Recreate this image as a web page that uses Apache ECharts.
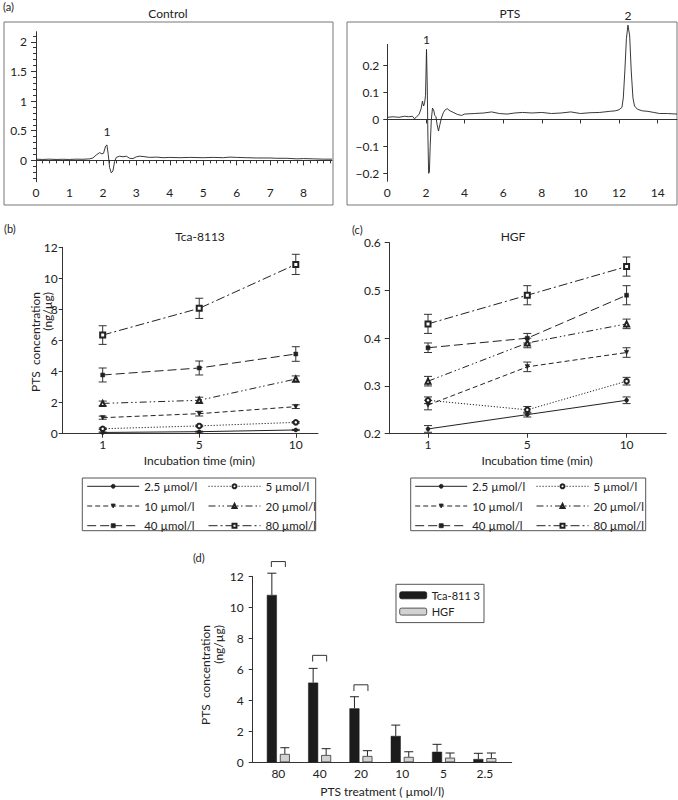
<!DOCTYPE html>
<html><head><meta charset="utf-8">
<script src="https://cdn.jsdelivr.net/npm/echarts@6/dist/echarts.min.js"></script>
<style>html,body{margin:0;padding:0;background:#fff}#c{width:678px;height:800px}</style>
</head><body><div id="c"></div>
<script>
const FONT = 'Lato';
const INK = '#222';
// ---------- (a) chromatograms ----------
const ctrlTime = [0,0.2,0.4,0.6,0.8,1.0,1.2,1.4,1.6,1.7,1.8,1.9,1.97,2.02,2.08,2.12,2.16,2.2,2.25,2.3,2.35,2.4,2.5,2.6,2.7,2.8,2.9,3.0,3.1,3.2,3.4,3.6,3.8,4.0,4.3,4.6,5.0,5.3,5.6,5.8,6.0,6.3,6.6,7.0,7.2,7.5,7.8,8.0,8.3,8.6,8.85];
const ctrlSignal = [0.02,0.015,0.02,0.015,0.018,0.015,0.02,0.018,0.025,0.04,0.09,0.13,0.11,0.12,0.24,0.26,0.1,-0.12,-0.21,-0.18,-0.02,0.05,0.07,0.06,0.07,0.035,0.03,0.06,0.07,0.065,0.05,0.055,0.045,0.05,0.045,0.05,0.045,0.05,0.045,0.055,0.05,0.045,0.04,0.04,0.035,0.035,0.025,0.03,0.025,0.02,0.02];
const ptsTime = [0,0.3,0.6,0.9,1.1,1.3,1.4,1.5,1.65,1.75,1.82,1.88,1.93,1.98,2.03,2.07,2.1,2.14,2.18,2.22,2.28,2.34,2.4,2.46,2.52,2.58,2.65,2.72,2.8,2.9,3.0,3.1,3.25,3.45,3.65,3.85,4.0,4.5,5.0,5.4,5.8,6.2,6.6,7.0,7.5,8.0,8.5,9.0,9.5,10,10.5,11,11.5,11.8,12.0,12.15,12.22,12.3,12.38,12.46,12.55,12.63,12.72,12.8,12.95,13.2,13.5,13.8,14.1,14.5,15];
const ptsSignal = [0.008,0.01,0.008,0.012,0.01,0.012,0.003,0.008,0.02,0.04,0.068,0.05,0.06,0.09,0.26,0.12,-0.05,-0.2,-0.195,-0.1,0.0,0.042,0.035,0.015,0.01,-0.02,-0.043,-0.02,0.005,0.025,0.036,0.04,0.032,0.025,0.018,0.015,0.02,0.022,0.024,0.028,0.022,0.02,0.024,0.026,0.024,0.026,0.022,0.024,0.028,0.022,0.025,0.026,0.03,0.032,0.036,0.045,0.08,0.18,0.3,0.35,0.31,0.18,0.08,0.05,0.038,0.032,0.03,0.026,0.022,0.022,0.02];
const ctrlPeakNames = ['1'];
const ctrlPeakTime = [2.12];
const ctrlPeakValue = [0.26];
const ptsPeakNames = ['1','2'];
const ptsPeakTime = [2.03,12.46];
const ptsPeakValue = [0.26,0.35];
const ctrlXTicks = [0,1,2,3,4,5,6,7,8];
const ctrlYTicks = [0,0.5,1,1.5,2];
const ptsXTicks = [0,2,4,6,8,10,12,14];
const ptsYTicks = [-0.2,-0.1,0,0.1,0.2];
const ctrlXMinor = []; for (let i = 1; i <= 44; i++) { if (i % 5) ctrlXMinor.push(+(i*0.2).toFixed(1)); }
const ctrlYMinor = []; for (let i = -3; i <= 21; i++) { if (i % 5) ctrlYMinor.push(+(i*0.1).toFixed(1)); }

// ---------- (b),(c) time courses ----------
const timeLabels = ['1','5','10'];
const concNames = ['2.5 µmol/l','5 µmol/l','10 µmol/l','20 µmol/l','40 µmol/l','80 µmol/l'];
const tca25 = [0.08,0.13,0.24];  const tca25Err = [0.03,0.03,0.04];
const tca5  = [0.32,0.50,0.73];  const tca5Err  = [0.05,0.05,0.05];
const tca10 = [1.03,1.29,1.74];  const tca10Err = [0.10,0.15,0.12];
const tca20 = [1.95,2.15,3.52];  const tca20Err = [0.15,0.20,0.20];
const tca40 = [3.78,4.23,5.13];  const tca40Err = [0.45,0.45,0.47];
const tca80 = [6.35,8.07,10.90]; const tca80Err = [0.60,0.65,0.65];
const hgf25 = [0.21,0.24,0.27];  const hgf25Err = [0.007,0.005,0.007];
const hgf5  = [0.27,0.25,0.31];  const hgf5Err  = [0.007,0.007,0.008];
const hgf10 = [0.26,0.34,0.37];  const hgf10Err = [0.01,0.01,0.01];
const hgf20 = [0.31,0.39,0.43];  const hgf20Err = [0.01,0.01,0.01];
const hgf40 = [0.38,0.40,0.49];  const hgf40Err = [0.01,0.01,0.02];
const hgf80 = [0.43,0.49,0.55];  const hgf80Err = [0.02,0.02,0.02];

// ---------- (d) bars ----------
const doseLabels = ['80','40','20','10','5','2.5'];
const tcaBar    = [10.8,5.14,3.48,1.70,0.68,0.21];
const tcaBarErr = [1.40,0.92,0.75,0.70,0.48,0.37];
const hgfBar    = [0.54,0.47,0.41,0.35,0.30,0.27];
const hgfBarErr = [0.40,0.41,0.34,0.33,0.30,0.33];
const bracketIdx = [0,1,2];
const bracketTop = [12.95,6.9,5.0];
const bracketLow = [12.6,6.5,4.6];

// ---------- styles ----------
const seriesStyles = [
  {symbol:'circle', size:4, dash:'solid', rot:0, bw:0.5},
  {symbol:'emptyCircle', size:4.5, dash:[1.2,1.8], rot:0, bw:0.8},
  {symbol:'triangle', size:4.5, dash:[5,3], rot:180, bw:0.5},
  {symbol:'emptyTriangle', size:5, dash:[7,3,1.5,2.5,1.5,3], rot:0, bw:0.8},
  {symbol:'rect', size:4, dash:[9,4], rot:0, bw:0.5},
  {symbol:'emptyRect', size:5, dash:[9,3,2,3], rot:0, bw:0.8}
];
const lbl = (extra) => Object.assign({fontFamily:FONT, fontSize:12, color:INK}, extra||{});
const axLine = {show:true, lineStyle:{color:'#333', width:1}};
const tickOut = (len, vals) => { const t = {show:true, inside:false, length:len, lineStyle:{color:'#333', width:1}}; if (vals) t.customValues = vals; return t; };

function errRender(capHalf, dx){
  return function(params, api){
    const x = api.value(0);
    const lo = api.coord([x, api.value(1)]);
    const hi = api.coord([x, api.value(2)]);
    const s = {stroke:'#333', lineWidth:1};
    const px = lo[0] + (dx||0);
    return {type:'group', children:[
      {type:'line', shape:{x1:px,y1:lo[1],x2:px,y2:hi[1]}, style:s},
      {type:'line', shape:{x1:px-capHalf,y1:hi[1],x2:px+capHalf,y2:hi[1]}, style:s},
      {type:'line', shape:{x1:px-capHalf,y1:lo[1],x2:px+capHalf,y2:lo[1]}, style:s}
    ]};
  };
}
function upErrRender(capHalf, dx){
  return function(params, api){
    const x = api.value(0);
    const lo = api.coord([x, api.value(1)]);
    const hi = api.coord([x, api.value(2)]);
    const s = {stroke:'#222', lineWidth:1};
    const px = lo[0] + dx;
    return {type:'group', children:[
      {type:'line', shape:{x1:px,y1:lo[1],x2:px,y2:hi[1]}, style:s},
      {type:'line', shape:{x1:px-capHalf,y1:hi[1],x2:px+capHalf,y2:hi[1]}, style:s}
    ]};
  };
}
function bracketRender(params, api){
  const x = api.value(0);
  const top = api.coord([x, api.value(1)]);
  const low = api.coord([x, api.value(2)]);
  return {type:'polyline', shape:{points:[[top[0]-7,low[1]],[top[0]-7,top[1]],[top[0]+7,top[1]],[top[0]+7,low[1]]]},
    style:{stroke:'#333', lineWidth:1, fill:'none'}};
}

function panelSeries(means, errs, xi, yi){
  const out = [];
  means.forEach((m, k) => {
    const st = seriesStyles[k];
    out.push({
      type:'line', name:concNames[k], xAxisIndex:xi, yAxisIndex:yi, z:3,
      data: m.map((v,i)=>[i+1, v]),
      symbol:st.symbol, symbolSize:st.size, symbolRotate:st.rot, showSymbol:true,
      lineStyle:{color:INK, width:1, type:st.dash},
      itemStyle:{color:INK, borderColor:INK, borderWidth:st.bw}
    });
  });
  const errData = [];
  means.forEach((m,k)=>{ m.forEach((v,i)=>{ errData.push([i+1, v-errs[k][i], v+errs[k][i]]); }); });
  out.push({type:'custom', xAxisIndex:xi, yAxisIndex:yi, z:1, silent:true, clip:false,
    renderItem: errRender(4, 0), encode:{x:0, y:[1,2]}, data: errData});
  return out;
}

const tcaMeans = [tca25,tca5,tca10,tca20,tca40,tca80];
const tcaErrs = [tca25Err,tca5Err,tca10Err,tca20Err,tca40Err,tca80Err];
const hgfMeans = [hgf25,hgf5,hgf10,hgf20,hgf40,hgf80];
const hgfErrs = [hgf25Err,hgf5Err,hgf10Err,hgf20Err,hgf40Err,hgf80Err];

const ptsYMin = -0.231, ptsYMax = 0.35, ptsAxisTop = 0.28;

const legendCol = (names, left) => ({data:names, orient:'vertical', left:left, top:480.3, padding:0,
  itemWidth:52, itemHeight:5, itemGap:7.7, selectedMode:false,
  lineStyle:{width:1}, itemStyle:{borderWidth:0.8},
  textStyle:lbl({lineHeight:10, fontSize:11.5})});

const chart = echarts.init(document.getElementById('c'), null, {renderer:'svg'});
const option = {
  animation:false,
  backgroundColor:'#fff',
  textStyle:{fontFamily:FONT},
  title:[
    {text:'(a)', left:3, top:1, padding:0, textStyle:lbl({fontSize:11, fontWeight:'normal'})},
    {text:'Control', left:168, top:7, padding:0, textAlign:'center', textStyle:lbl({fontWeight:'normal'})},
    {text:'PTS', left:510, top:7, padding:0, textAlign:'center', textStyle:lbl({fontWeight:'normal'})},
    {text:'(b)', left:4, top:223, padding:0, textStyle:lbl({fontSize:11, fontWeight:'normal'})},
    {text:'Tca-8113', left:200, top:230, padding:0, textAlign:'center', textStyle:lbl({fontWeight:'normal'})},
    {text:'(c)', left:352, top:224, padding:0, textStyle:lbl({fontSize:11, fontWeight:'normal'})},
    {text:'HGF', left:513, top:230, padding:0, textAlign:'center', textStyle:lbl({fontWeight:'normal'})},
    {text:'(d)', left:193, top:552, padding:0, textStyle:lbl({fontSize:11, fontWeight:'normal'})}
  ],
  grid:[
    {left:36, top:31.7, width:296, height:150},          // 0 control
    {left:36, top:31.7, width:296, height:150},          // 1 control minor ticks
    {left:387.3, top:25.15, width:289.7, height:156.55}, // 2 PTS
    {left:62.7, top:247.3, width:255.3, height:186.4},   // 3 (b)
    {left:389.7, top:242.7, width:276.6, height:191},    // 4 (c)
    {left:257.7, top:576.3, width:247.8, height:186},    // 5 (d) bars
    {left:252.7, top:576.3, width:259, height:186}       // 6 (d) axis line
  ],
  xAxis:[
    {gridIndex:0, type:'value', min:0, max:8.85, axisLine:axLine, splitLine:{show:false},
      axisTick:tickOut(5, ctrlXTicks), axisLabel:Object.assign(lbl({margin:5}), {customValues:ctrlXTicks})},
    {gridIndex:1, type:'value', min:0, max:8.85, axisLine:{show:false}, splitLine:{show:false},
      axisTick:tickOut(3, ctrlXMinor), axisLabel:{show:false}},
    {gridIndex:2, type:'value', min:0, max:15, axisLine:axLine, splitLine:{show:false},
      axisTick:tickOut(4, ptsXTicks), axisLabel:Object.assign(lbl({margin:5}), {customValues:ptsXTicks})},
    {gridIndex:3, type:'value', min:0.586, max:3.23, axisLine:axLine, splitLine:{show:false},
      axisTick:tickOut(4, [1,2,3]),
      axisLabel:Object.assign(lbl({margin:5}), {customValues:[1,2,3], formatter:v=>timeLabels[Math.round(v)-1]}),
      name:'Incubation time (min)', nameLocation:'middle', nameGap:21,
      nameTextStyle:lbl({padding:[0,0,0,18]})},
    {gridIndex:4, type:'value', min:0.614, max:3.4, axisLine:axLine, splitLine:{show:false},
      axisTick:tickOut(4, [1,2,3]),
      axisLabel:Object.assign(lbl({margin:5}), {customValues:[1,2,3], formatter:v=>timeLabels[Math.round(v)-1]}),
      name:'Incubation time (min)', nameLocation:'middle', nameGap:21,
      nameTextStyle:lbl({padding:[0,0,0,18]})},
    {gridIndex:5, type:'category', data:doseLabels, boundaryGap:true, axisLine:{show:false},
      axisTick:{show:false}, axisLabel:lbl({margin:5})},
    {gridIndex:6, type:'value', min:0, max:1, axisLine:axLine, axisTick:{show:false}, axisLabel:{show:false},
      splitLine:{show:false}, name:'PTS treatment ( µmol/l)', nameLocation:'middle', nameGap:23, nameTextStyle:lbl()}
  ],
  yAxis:[
    {gridIndex:0, type:'value', min:-0.36, max:2.17, axisLine:axLine, splitLine:{show:false},
      axisTick:tickOut(5, ctrlYTicks), axisLabel:Object.assign(lbl({margin:9}), {customValues:ctrlYTicks})},
    {gridIndex:1, type:'value', min:-0.36, max:2.17, axisLine:{show:false}, splitLine:{show:false},
      axisTick:tickOut(3, ctrlYMinor), axisLabel:{show:false}},
    {gridIndex:2, type:'value', min:ptsYMin, max:ptsYMax, axisLine:{show:false}, splitLine:{show:false},
      axisTick:tickOut(4, ptsYTicks),
      axisLabel:Object.assign(lbl({margin:8}), {customValues:ptsYTicks, formatter:v=> v<0 ? '\u2212'+Math.abs(v) : String(v)})},
    {gridIndex:3, type:'value', min:0, max:12, interval:2, axisLine:axLine, splitLine:{show:false},
      axisTick:tickOut(4), axisLabel:lbl({margin:5})},
    {gridIndex:4, type:'value', min:0.2, max:0.6, interval:0.1, axisLine:axLine, splitLine:{show:false},
      axisTick:tickOut(5), axisLabel:lbl({margin:9, formatter:v=>v.toFixed(1)})},
    {gridIndex:5, type:'value', min:0, max:12, interval:2, offset:5, axisLine:axLine, splitLine:{show:false},
      axisTick:tickOut(4), axisLabel:lbl({margin:9})},
    {gridIndex:6, type:'value', min:0, max:1, show:false}
  ],
  legend:[
    legendCol([concNames[0],concNames[2],concNames[4]], 86.7),
    legendCol([concNames[1],concNames[3],concNames[5]], 208),
    legendCol([concNames[0],concNames[2],concNames[4]], 414.7),
    legendCol([concNames[1],concNames[3],concNames[5]], 536),
    {data:['Tca-811 3','HGF'], orient:'vertical', left:396, top:584.3, padding:[5.5,4,5.5,3.3],
      borderColor:'#555', borderWidth:1, itemWidth:27, itemHeight:7, itemGap:5.3, selectedMode:false,
      itemStyle:{borderWidth:0.8},
      textStyle:lbl({lineHeight:8, fontSize:11})}
  ],
  graphic:[
    {type:'rect', shape:{x:4, y:22, width:329, height:183}, style:{stroke:'#777', fill:'none', lineWidth:1}, silent:true},
    {type:'rect', shape:{x:347, y:22, width:330, height:183}, style:{stroke:'#777', fill:'none', lineWidth:1}, silent:true},
    {type:'rect', shape:{x:82.3, y:478, width:233.4, height:52.7}, style:{stroke:'#555', fill:'none', lineWidth:1}, silent:true},
    {type:'rect', shape:{x:410.7, y:478, width:235, height:52.7}, style:{stroke:'#555', fill:'none', lineWidth:1}, silent:true},
    {type:'text', x:29, y:292, rotation:Math.PI/2, silent:true,
      style:{text:'PTS  concentration\n(ng/µg)', fill:INK, font:'12px '+FONT, textAlign:'right', textVerticalAlign:'top', align:'right', verticalAlign:'top', lineHeight:12.5}},
    {type:'text', x:199.5, y:625, rotation:Math.PI/2, silent:true,
      style:{text:'PTS  concentration\n(ng/µg)', fill:INK, font:'12px '+FONT, textAlign:'right', textVerticalAlign:'top', align:'right', verticalAlign:'top', lineHeight:12.5}}
  ],
  series:[
    {type:'line', xAxisIndex:0, yAxisIndex:0, showSymbol:false, symbol:'none',
      data: ctrlTime.map((t,i)=>[t, ctrlSignal[i]]), lineStyle:{color:INK, width:0.9},
      markPoint:{symbol:'circle', symbolSize:0, silent:true,
        label:{show:true, position:'top', distance:7, formatter:p=>p.name, fontFamily:FONT, fontSize:12, color:INK},
        data: ctrlPeakNames.map((n,i)=>({name:n, coord:[ctrlPeakTime[i], ctrlPeakValue[i]]}))}},
    {type:'line', xAxisIndex:2, yAxisIndex:2, showSymbol:false, symbol:'none',
      data: ptsTime.map((t,i)=>[t, ptsSignal[i]]), lineStyle:{color:INK, width:0.9},
      markPoint:{symbol:'circle', symbolSize:0, silent:true,
        label:{show:true, position:'top', distance:4, formatter:p=>p.name, fontFamily:FONT, fontSize:12, color:INK},
        data: ptsPeakNames.map((n,i)=>({name:n, coord:[ptsPeakTime[i], ptsPeakValue[i]]}))},
      markLine:{silent:true, symbol:'none', label:{show:false}, lineStyle:{color:'#333', width:1, type:'solid'},
        data:[[{coord:[0, ptsYMin]},{coord:[0, ptsAxisTop]}]]}},
    ...panelSeries(tcaMeans, tcaErrs, 3, 3),
    ...panelSeries(hgfMeans, hgfErrs, 4, 4),
    {type:'bar', name:'Tca-811 3', xAxisIndex:5, yAxisIndex:5, data:tcaBar, barWidth:10, barGap:'30%',
      itemStyle:{color:'#1c1c1c', borderColor:'#1c1c1c', borderWidth:0.5}},
    {type:'bar', name:'HGF', xAxisIndex:5, yAxisIndex:5, data:hgfBar, barWidth:10, barGap:'30%',
      itemStyle:{color:'#d2d2d2', borderColor:'#333', borderWidth:0.8}},
    {type:'custom', xAxisIndex:5, yAxisIndex:5, silent:true, clip:false, z:3, encode:{x:0, y:[1,2]},
      renderItem: upErrRender(4.5, -6.5), data: tcaBar.map((v,i)=>[i, v, v+tcaBarErr[i]])},
    {type:'custom', xAxisIndex:5, yAxisIndex:5, silent:true, clip:false, z:3, encode:{x:0, y:[1,2]},
      renderItem: upErrRender(4.5, 6.5), data: hgfBar.map((v,i)=>[i, v, v+hgfBarErr[i]])},
    {type:'custom', xAxisIndex:5, yAxisIndex:5, silent:true, clip:false, z:3, encode:{x:0, y:[1,2]},
      renderItem: bracketRender, data: bracketIdx.map((c,i)=>[c, bracketTop[i], bracketLow[i]])}
  ]
};
chart.setOption(option);
</script>
</body></html>
